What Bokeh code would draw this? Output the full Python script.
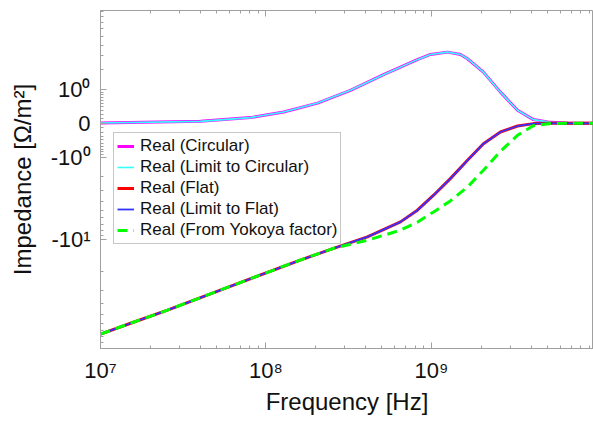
import numpy as np
from bokeh.plotting import figure
from bokeh.models import (Range1d, FixedTicker, CustomJSTickFormatter, LogAxis,
                          Legend, LegendItem)
from bokeh.embed import file_html
from bokeh.resources import INLINE

# ---------------- data ----------------
freq_up = [1.0e7, 4.02e7, 8.05e7, 1.28e8, 2.05e8, 3.24e8, 5.13e8, 8.22e8, 9.86e8,
           1.25e9, 1.50e9, 1.65e9, 2.06e9, 2.61e9, 3.31e9, 4.13e9, 5.24e9, 6.64e9, 9.53e9]
circular = [0.006, 0.042, 0.125, 0.262, 0.517, 0.972, 1.72, 2.71, 3.13,
            3.33, 3.13, 2.78, 1.87, 0.90, 0.31, 0.08, 0.02, 0.006, 0.0]
limit_circular = [0.006, 0.042, 0.125, 0.262, 0.517, 0.972, 1.72, 2.71, 3.13,
                  3.33, 3.13, 2.78, 1.87, 0.90, 0.31, 0.08, 0.02, 0.006, 0.0]

freq_low = [1.0e7, 1.58e7, 2.54e7, 6.37e7, 1.61e8, 2.56e8, 4.10e8, 6.50e8, 8.22e8,
            1.03e9, 1.30e9, 1.65e9, 2.06e9, 2.61e9, 3.31e9, 4.13e9, 5.24e9, 6.64e9, 9.53e9]
flat = [-75.6, -59.0, -45.8, -26.9, -15.7, -12.1, -9.36, -6.6, -4.98,
        -3.39, -2.12, -1.14, -0.52, -0.196, -0.057, -0.006, 0.0, 0.0, 0.0]
limit_flat = [-75.6, -59.0, -45.8, -26.9, -15.7, -12.1, -9.36, -6.6, -4.98,
              -3.39, -2.12, -1.14, -0.52, -0.196, -0.057, -0.006, 0.0, 0.0, 0.0]
yokoya = [-75.6, -59.0, -45.8, -26.9, -15.7, -12.1, -10.1, -8.02, -6.66,
          -5.19, -3.94, -2.71, -1.63, -0.78, -0.28, -0.049, -0.005, 0.0, 0.0]

x_ticks = [1e7, 1e8, 1e9]
x_labels = ["10\u2077", "10\u2078", "10\u2079"]
y_tick_values = [1.0, 0.0, -1.0, -10.0]
y_labels = ["10\u2070", "0", "-10\u2070", "-10\u00b9"]

# sign * log10(1 + |v|) scale used by the reference's y axis
def symlog(v):
    v = np.asarray(v, dtype=float)
    return np.sign(v) * np.log10(1.0 + np.abs(v))

FONT = "Liberation Sans"

p = figure(width=593, height=420, x_axis_type="log",
           x_range=Range1d(1e7, 9.53e9),
           y_range=Range1d(float(symlog(-102.0)), float(symlog(9.2))),
           output_backend="svg", toolbar_location=None,
           min_border_left=100, min_border_right=0, min_border_top=10,
           min_border_bottom=72)
p.background_fill_color = "white"
p.border_fill_color = "white"
p.outline_line_color = "#a0a0a0"
p.grid.visible = False

# x axis ticks
x_minor = [m * 10.0 ** e for e in (7, 8, 9) for m in range(2, 10)]
xt = FixedTicker(ticks=x_ticks, minor_ticks=x_minor)
xfmt = CustomJSTickFormatter(args=dict(t=x_ticks, l=x_labels), code="""
for (let i = 0; i < t.length; i++) { if (Math.abs(Math.log10(tick) - Math.log10(t[i])) < 1e-6) return l[i]; }
return ' ';
""")
yt_vals = [float(v) for v in symlog(y_tick_values)]
y_minor_vals = ([k / 10 for k in range(1, 10)] + list(range(2, 10)) +
                [-k / 10 for k in range(1, 10)] + [-k for k in range(2, 10)] +
                [-10 * k for k in range(2, 10)])
yt = FixedTicker(ticks=yt_vals, minor_ticks=[float(v) for v in symlog(y_minor_vals)])
yfmt = CustomJSTickFormatter(args=dict(t=yt_vals, l=y_labels), code="""
for (let i = 0; i < t.length; i++) { if (Math.abs(tick - t[i]) < 1e-6) return l[i]; }
return ' ';
""")

def style_axis(ax):
    ax.axis_line_color = "#a0a0a0"
    ax.major_tick_line_color = "#a0a0a0"
    ax.minor_tick_line_color = "#a0a0a0"
    ax.major_tick_in = 6
    ax.major_tick_out = 0
    ax.minor_tick_in = 3
    ax.minor_tick_out = 0
    ax.major_label_text_font = FONT
    ax.major_label_text_color = "#111111"
    ax.axis_label_text_font = FONT
    ax.axis_label_text_font_style = "normal"
    ax.axis_label_text_color = "#111111"

xa = p.xaxis[0]
xa.ticker = xt
xa.formatter = xfmt
style_axis(xa)
xa.major_label_text_font_size = "22px"
xa.major_label_standoff = 9
xa.axis_label = "Frequency [Hz]"
xa.axis_label_text_font_size = "24px"
xa.axis_label_standoff = 2

ya = p.yaxis[0]
ya.ticker = yt
ya.formatter = yfmt
style_axis(ya)
ya.major_label_text_font_size = "22px"
ya.major_label_standoff = 10
ya.axis_label = "Impedance [\u03a9/m\u00b2]"
ya.axis_label_text_font_size = "24px"
ya.axis_label_standoff = 12

top = LogAxis(ticker=FixedTicker(ticks=x_ticks, minor_ticks=x_minor))
style_axis(top)
top.major_label_text_font_size = "1px"
top.major_label_text_alpha = 0
top.major_label_standoff = 0
top.axis_line_color = None
p.add_layout(top, "above")

# lines
r1 = p.line(freq_up, symlog(circular), line_color="#ff00ff", line_width=3)
r2 = p.line(freq_up, symlog(limit_circular), line_color="#33ffff", line_width=1.6)
r3 = p.line(freq_low, symlog(flat), line_color="#ff0000", line_width=3)
r4 = p.line(freq_low, symlog(limit_flat), line_color="#3333ff", line_width=1.8)
r5 = p.line(freq_low, symlog(yokoya), line_color="#00ff00", line_width=3,
            line_dash="10 6")

legend = Legend(items=[
    LegendItem(label="Real (Circular)", renderers=[r1]),
    LegendItem(label="Real (Limit to Circular)", renderers=[r2]),
    LegendItem(label="Real (Flat)", renderers=[r3]),
    LegendItem(label="Real (Limit to Flat)", renderers=[r4]),
    LegendItem(label="Real (From Yokoya factor)", renderers=[r5]),
], location=(13, 104))
legend.label_text_font = FONT
legend.label_text_font_size = "17px"
legend.label_text_color = "#111111"
legend.label_height = 20
legend.glyph_height = 20
legend.glyph_width = 17
legend.label_standoff = 6
legend.spacing = 1
legend.padding = 3
legend.margin = 0
legend.border_line_color = "#909090"
legend.border_line_width = 1
legend.background_fill_color = "white"
legend.background_fill_alpha = 1.0
p.add_layout(legend, "center")

open("out.html", "w").write(file_html(p, INLINE))
